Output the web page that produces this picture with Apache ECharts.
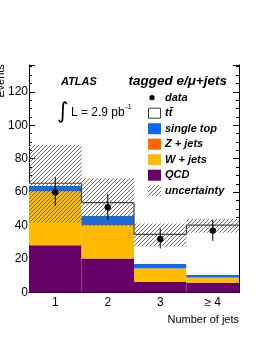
<!DOCTYPE html>
<html><head><meta charset="utf-8">
<script src="https://cdn.jsdelivr.net/npm/echarts@6/dist/echarts.min.js"></script>
<style>html,body{margin:0;padding:0;background:#fff}#c{width:262px;height:339px}</style>
</head><body><div id="c"></div>
<script>
const categories = ['1', '2', '3', '\u2265 4'];
const qcd = [28.3, 20.3, 6.3, 5.7];
const wjets = [32.0, 19.7, 8.0, 3.1];
const zjets = [0.3, 0.3, 0.2, 0.2];
const singleTop = [3.0, 5.6, 2.6, 1.4];
const ttbar = [1.7, 7.8, 17.6, 29.9];
const uncLow = [41.7, 39.8, 27.7, 35.7];
const uncHigh = [88.2, 68.3, 41.3, 43.9];
const dataVals = [60, 51, 32, 37];
const dataErrUp = [8.9, 7.9, 6.3, 6.3];
const dataErrDown = [8.3, 7.7, 5.7, 6.1];

const FONT = '"Liberation Sans", Arial, Helvetica, sans-serif';
const C_QCD = '#660066', C_W = '#ffbb00', C_Z = '#ff6600', C_ST = '#0a6cf5', C_LINE = '#3c3c3c';

function hatchCanvas() {
  const c = document.createElement('canvas');
  c.width = 4; c.height = 4;
  const g = c.getContext('2d');
  g.strokeStyle = '#606060'; g.lineWidth = 0.9;
  g.beginPath();
  g.moveTo(-1, 5); g.lineTo(5, -1);
  g.moveTo(-1, 1); g.lineTo(1, -1);
  g.moveTo(3, 5); g.lineTo(5, 3);
  g.stroke();
  return c;
}
const hatch = { image: hatchCanvas(), repeat: 'repeat' };

const totals = categories.map((_, i) => qcd[i] + wjets[i] + zjets[i] + singleTop[i] + ttbar[i]);

const chart = echarts.init(document.getElementById('c'), null, { renderer: 'canvas' });

function barSeries(name, data, color) {
  return { name, type: 'bar', stack: 'mc', data, barWidth: '100%', barCategoryGap: '0%', z: 2,
    itemStyle: { color }, silent: true, animation: false };
}

const legendItems = [
  { label: 'single top', fill: C_ST },
  { label: 'Z + jets', fill: C_Z },
  { label: 'W + jets', fill: C_W },
  { label: 'QCD', fill: C_QCD },
  { label: 'uncertainty', fill: hatch }
];
const LFONT = 'italic bold 11px ' + FONT;
const legendGraphics = [];
const lx = 148, ly0 = 97.7, ldy = 15.5;
legendGraphics.push({ type: 'circle', shape: { cx: 152, cy: ly0, r: 2.6 }, style: { fill: '#000' } });
legendGraphics.push({ type: 'text', style: { text: 'data', x: 165, y: ly0, font: LFONT, fill: '#000', textVerticalAlign: 'middle' } });
legendGraphics.push({ type: 'rect', shape: { x: lx + 0.5, y: ly0 + ldy - 5, width: 12, height: 10 }, style: { fill: '#fff', stroke: C_LINE, lineWidth: 1 } });
legendGraphics.push({ type: 'text', style: { text: 'tt\u0304', x: 165, y: ly0 + ldy, font: LFONT, fill: '#000', textVerticalAlign: 'middle' } });
legendItems.forEach((it, k) => {
  const y = ly0 + ldy * (k + 2);
  legendGraphics.push({ type: 'rect', shape: { x: lx, y: y - 5.5, width: 13, height: 11 }, style: { fill: it.fill } });
  legendGraphics.push({ type: 'text', style: { text: it.label, x: 165, y: y, font: LFONT, fill: '#000', textVerticalAlign: 'middle' } });
});

const option = {
  backgroundColor: '#fff',
  animation: false,
  grid: [
    { left: 29, right: 23, top: 65, bottom: 46.5, outerBoundsMode: 'none' },
    { left: 6, top: 65, width: 10, height: 32, outerBoundsMode: 'none' }
  ],
  xAxis: [
    { type: 'category', data: categories, position: 'bottom', gridIndex: 0,
      axisLine: { lineStyle: { color: '#000', width: 1 } },
      axisTick: { inside: true, length: 7, lineStyle: { color: '#000' } },
      axisLabel: { color: '#000', fontSize: 12, fontFamily: FONT, margin: 4 } },
    { type: 'category', data: categories, position: 'top', gridIndex: 0,
      axisLine: { lineStyle: { color: '#000', width: 1 } },
      axisTick: { inside: true, length: 7, lineStyle: { color: '#000' } },
      axisLabel: { show: false } },
    { type: 'value', gridIndex: 1, show: false, min: 0, max: 1 }
  ],
  yAxis: [
    { type: 'value', min: 0, max: 136, interval: 20, position: 'left', gridIndex: 0,
      splitLine: { show: false },
      axisLine: { show: true, lineStyle: { color: '#000', width: 1 } },
      axisTick: { show: true, inside: true, length: 6, lineStyle: { color: '#000' } },
      minorTick: { show: true, splitNumber: 4, length: 3, lineStyle: { color: '#000' } },
      axisLabel: { color: '#000', fontSize: 12, fontFamily: FONT, margin: 1, showMaxLabel: false,
        formatter: v => (v % 20 === 0 ? String(v) : '') } },
    { type: 'value', min: 0, max: 136, interval: 20, position: 'right', gridIndex: 0,
      splitLine: { show: false },
      axisLine: { show: true, lineStyle: { color: '#000', width: 1 } },
      axisTick: { show: true, inside: true, length: 6, lineStyle: { color: '#000' } },
      minorTick: { show: true, splitNumber: 4, length: 3, lineStyle: { color: '#000' } },
      axisLabel: { show: false } },
    { type: 'value', min: 0, max: 1, position: 'left', gridIndex: 1,
      name: 'Events', nameLocation: 'middle', nameRotate: 90, nameGap: 0,
      nameTextStyle: { fontSize: 11, fontFamily: FONT, color: '#000' },
      splitLine: { show: false }, axisLine: { show: false }, axisTick: { show: false }, axisLabel: { show: false } }
  ],
  series: [
    barSeries('QCD', qcd, C_QCD),
    barSeries('W + jets', wjets, C_W),
    barSeries('Z + jets', zjets, C_Z),
    barSeries('single top', singleTop, C_ST),
    barSeries('tt', ttbar, '#ffffff'),
    { name: 'tt outline', type: 'custom', silent: true, animation: false, z: 3,
      data: totals.map((t, i) => [i, t, i + 1 < totals.length ? totals[i + 1] : -1]),
      renderItem: (params, api) => {
        const i = api.value(0), top = api.value(1), next = api.value(2);
        const p = api.coord([i, top]);
        const bw = api.size([1, 0])[0];
        const l = p[0] - bw / 2, r = p[0] + bw / 2;
        const children = [{ type: 'line', shape: { x1: l, y1: p[1], x2: r, y2: p[1] }, style: { stroke: C_LINE, lineWidth: 1.2 } }];
        if (next >= 0) {
          const q = api.coord([i + 1, next]);
          children.push({ type: 'line', shape: { x1: r, y1: p[1], x2: r, y2: q[1] }, style: { stroke: C_LINE, lineWidth: 1.2 } });
        }
        return { type: 'group', children };
      } },
    { name: 'uncertainty', type: 'custom', silent: true, animation: false, z: 4,
      data: uncLow.map((lo, i) => [i, lo, uncHigh[i]]),
      renderItem: (params, api) => {
        const i = api.value(0);
        const a = api.coord([i, api.value(1)]), b = api.coord([i, api.value(2)]);
        const bw = api.size([1, 0])[0];
        return { type: 'rect', shape: { x: a[0] - bw / 2, y: b[1], width: bw, height: a[1] - b[1] }, style: { fill: hatch } };
      } },
    { name: 'data', type: 'custom', silent: true, animation: false, z: 5,
      data: dataVals.map((v, i) => [i, v, v + dataErrUp[i], v - dataErrDown[i]]),
      renderItem: (params, api) => {
        const i = api.value(0);
        const c = api.coord([i, api.value(1)]);
        const hi = api.coord([i, api.value(2)]), lo = api.coord([i, api.value(3)]);
        return { type: 'group', children: [
          { type: 'line', shape: { x1: c[0], y1: hi[1], x2: c[0], y2: lo[1] }, style: { stroke: '#000', lineWidth: 1 } },
          { type: 'circle', shape: { cx: c[0], cy: c[1], r: 3.2 }, style: { fill: '#000' } }
        ] };
      } }
  ],
  graphic: [
    { type: 'text', style: { text: 'Number of jets', x: 239, y: 320, font: '11px ' + FONT, fill: '#000', textAlign: 'right', textVerticalAlign: 'middle' } },
    { type: 'text', style: { text: 'ATLAS', x: 61, y: 82, font: 'italic bold 11px ' + FONT, fill: '#000', textVerticalAlign: 'middle' } },
    { type: 'text', style: { text: 'tagged e/\u03bc+jets', x: 227, y: 81, font: 'italic bold 13.5px ' + FONT, fill: '#000', textAlign: 'right', textVerticalAlign: 'middle' } },
    { type: 'text', style: { text: '\u222b', x: 57, y: 112, font: '22px "DejaVu Sans", ' + FONT, fill: '#000', textVerticalAlign: 'middle' } },
    { type: 'text', style: { text: 'L = 2.9 pb', x: 71, y: 113, font: '12px ' + FONT, fill: '#000', textVerticalAlign: 'middle' } },
    { type: 'text', style: { text: '-1', x: 125.5, y: 107, font: '7px ' + FONT, fill: '#000', textVerticalAlign: 'middle' } }
  ].concat(legendGraphics)
};
chart.setOption(option);
</script>
</body></html>
